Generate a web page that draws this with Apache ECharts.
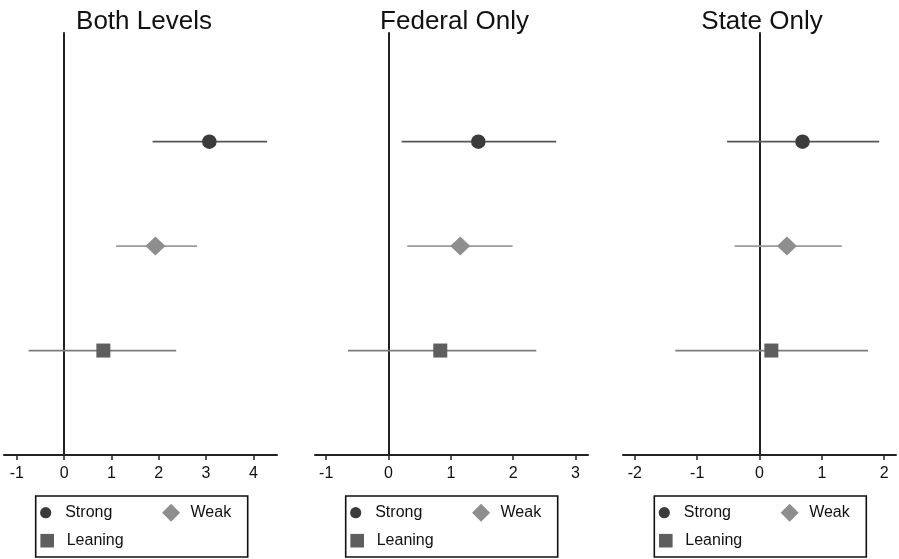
<!DOCTYPE html>
<html><head><meta charset="utf-8">
<script src="https://cdn.jsdelivr.net/npm/echarts@6/dist/echarts.min.js"></script>
<style>html,body{margin:0;padding:0;background:#fff}#c{width:899px;height:559px}</style>
</head><body><div id="c"></div>
<script>
// ---- data ----
const panels = ['Both Levels', 'Federal Only', 'State Only'];
const categories = ['Strong', 'Weak', 'Leaning'];
const bothEst = [3.07, 1.93, 0.83];
const bothLow = [1.87, 1.10, -0.75];
const bothHigh = [4.29, 2.81, 2.37];
const federalEst = [1.44, 1.15, 0.83];
const federalLow = [0.21, 0.30, -0.65];
const federalHigh = [2.69, 1.99, 2.37];
const stateEst = [0.69, 0.44, 0.19];
const stateLow = [-0.52, -0.40, -1.35];
const stateHigh = [1.92, 1.32, 1.74];
const bothTicks = [-1, 0, 1, 2, 3, 4];
const federalTicks = [-1, 0, 1, 2, 3];
const stateTicks = [-2, -1, 0, 1, 2];

// ---- layout / style ----
const panelData = [
  {est: bothEst, low: bothLow, high: bothHigh, ticks: bothTicks},
  {est: federalEst, low: federalLow, high: federalHigh, ticks: federalTicks},
  {est: stateEst, low: stateLow, high: stateHigh, ticks: stateTicks}
];
const layout = [
  {left: 4, width: 273, min: -1.27, max: 4.5, titleX: 144, boxX: 35.7},
  {left: 315, width: 273, min: -1.18, max: 3.2, titleX: 454.5, boxX: 345.7},
  {left: 623, width: 273, min: -2.19, max: 2.19, titleX: 762, boxX: 654.3}
];
const FONT = '"Liberation Sans", Arial, sans-serif';
const markerColor = {Strong: '#3b3b3b', Weak: '#8e8e8e', Leaning: '#5e5e5e'};
const ciColor = {Strong: '#555555', Weak: '#9a9a9a', Leaning: '#7c7c7c'};
const symbols = {Strong: 'circle', Weak: 'diamond', Leaning: 'rect'};
const symbolSizes = {Strong: 14.5, Weak: [20, 19], Leaning: 14};
const svgIcon = {
  Strong: '<svg xmlns="http://www.w3.org/2000/svg" width="20" height="20" viewBox="0 0 20 20"><circle cx="10" cy="10" r="5.6" fill="#3b3b3b"/></svg>',
  Weak: '<svg xmlns="http://www.w3.org/2000/svg" width="20" height="20" viewBox="0 0 20 20"><polygon points="10,1 19,10 10,19 1,10" fill="#8e8e8e"/></svg>',
  Leaning: '<svg xmlns="http://www.w3.org/2000/svg" width="20" height="20" viewBox="0 0 20 20"><rect x="3.2" y="3.2" width="13.6" height="13.6" fill="#5e5e5e"/></svg>'
};
const iconUrl = name => 'image://data:image/svg+xml;charset=utf-8,' + encodeURIComponent(svgIcon[name]);
const nCat = categories.length;

const grid = [], xAxis = [], yAxis = [], series = [], title = [], legend = [], graphic = [];
const legendCommon = {
  orient: 'horizontal', padding: 0, itemWidth: 29, itemHeight: 20,
  selectedMode: false,
  textStyle: {fontSize: 16, color: '#111', fontFamily: FONT}
};
layout.forEach((L, p) => {
  const D = panelData[p];
  grid.push({left: L.left, width: L.width, top: 33, height: 422, containLabel: false});
  xAxis.push({
    type: 'value', gridIndex: p, min: L.min, max: L.max,
    splitLine: {show: false},
    axisLine: {show: true, onZero: false, lineStyle: {color: '#222', width: 2}},
    axisTick: {show: true, length: 5, customValues: D.ticks, lineStyle: {color: '#222', width: 1.5}},
    axisLabel: {show: true, customValues: D.ticks, margin: 11, color: '#111', fontSize: 16, fontFamily: FONT}
  });
  yAxis.push({
    type: 'value', gridIndex: p, min: 0, max: 4.04,
    splitLine: {show: false},
    axisLine: {show: true, onZero: true, lineStyle: {color: '#222', width: 2}},
    axisTick: {show: false}, axisLabel: {show: false}
  });
  title.push({
    text: panels[p], left: L.titleX, top: 9, textAlign: 'center', padding: 0,
    textStyle: {fontSize: 26, fontWeight: 'normal', color: '#111', fontFamily: FONT}
  });
  series.push({
    type: 'custom', xAxisIndex: p, yAxisIndex: p, z: 1, silent: true,
    encode: {x: [1, 2], y: 0},
    data: categories.map((c, i) => [nCat - i, D.low[i], D.high[i], i]),
    renderItem: function (params, api) {
      const y = api.value(0);
      const a = api.coord([api.value(1), y]);
      const b = api.coord([api.value(2), y]);
      return {type: 'line', shape: {x1: a[0], y1: a[1], x2: b[0], y2: b[1]},
        style: {stroke: ciColor[categories[api.value(3)]], lineWidth: 1.8}};
    }
  });
  categories.forEach((c, i) => {
    series.push({
      type: 'scatter', name: c, xAxisIndex: p, yAxisIndex: p, z: 3,
      symbol: symbols[c], symbolSize: symbolSizes[c],
      itemStyle: {color: markerColor[c], opacity: 1},
      data: [[D.est[i], nCat - i]]
    });
  });
  // legend row 1: Strong, Weak
  legend.push(Object.assign({}, legendCommon, {
    left: L.boxX - 4.5, top: 502.7, itemGap: 44.2,
    data: categories.slice(0, 2).map(c => ({name: c, icon: iconUrl(c)}))
  }));
  // legend row 2: Leaning
  legend.push(Object.assign({}, legendCommon, {
    left: L.boxX - 3, top: 530.7, itemGap: 10,
    data: categories.slice(2).map(c => ({name: c, icon: iconUrl(c)}))
  }));
  // legend frame
  graphic.push({
    type: 'rect', silent: true, z: 10,
    shape: {x: L.boxX, y: 496, width: 212, height: 61},
    style: {fill: 'none', stroke: '#111', lineWidth: 1.6}
  });
});

const chart = echarts.init(document.getElementById('c'), null, {renderer: 'canvas'});
chart.setOption({
  animation: false,
  backgroundColor: '#fff',
  title, legend, grid, xAxis, yAxis, series, graphic
});
</script>
</body></html>
